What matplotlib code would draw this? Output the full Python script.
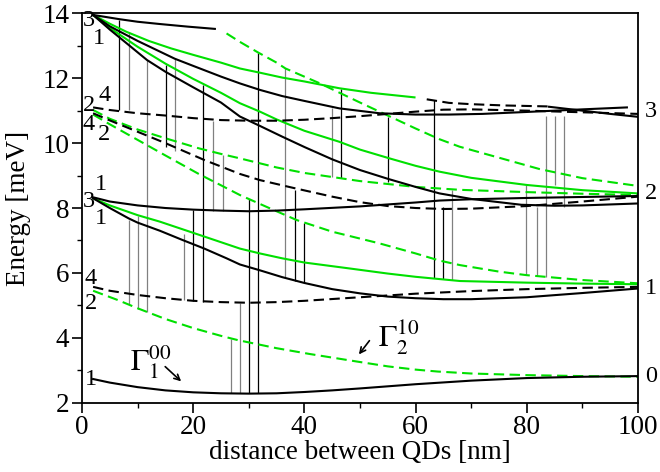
import matplotlib
matplotlib.use("Agg")
import matplotlib.pyplot as plt
from matplotlib.ticker import MultipleLocator

plt.rcParams['font.family'] = 'serif'
plt.rcParams['font.serif'] = ['Liberation Serif', 'DejaVu Serif']
plt.rcParams['mathtext.fontset'] = 'stix'

GREEN = '#00e000'
GRAY = '0.5'

# ---- energy levels (distance [nm], energy [meV]) ----
# black solid
gs_x = [2, 5, 10, 15, 20, 25, 30, 35, 40, 45, 50, 60, 70, 80, 90, 100]
gs_e = [2.73, 2.62, 2.48, 2.38, 2.32, 2.29, 2.28, 2.29, 2.33, 2.38, 2.44, 2.57, 2.68, 2.76, 2.80, 2.82]

low_x = [2, 5, 8.4, 10, 14, 18, 22, 26, 28.4, 32, 36, 40, 45, 50, 55, 60, 65, 70, 80, 90, 100]
low_e = [8.3, 8.0, 7.68, 7.55, 7.3, 7.02, 6.75, 6.45, 6.26, 6.08, 5.87, 5.69, 5.5, 5.37, 5.27, 5.22, 5.19, 5.19, 5.25, 5.38, 5.52]

flat_x = [2, 5, 10, 15, 20, 25, 30, 35, 40, 50, 60, 64.3, 70, 80, 90, 100]
flat_e = [8.33, 8.2, 8.08, 8.0, 7.95, 7.92, 7.9, 7.92, 7.96, 8.05, 8.17, 8.23, 8.27, 8.31, 8.34, 8.37]

b4_x = [2, 5, 8, 11.7, 15, 20, 25, 28.4, 32, 36, 40, 45, 50, 55, 60, 64.3, 70, 79, 85, 90, 100]
b4_e = [13.95, 13.5, 13.08, 12.56, 12.2, 11.72, 11.25, 10.82, 10.53, 10.2, 9.88, 9.5, 9.17, 8.9, 8.65, 8.45, 8.28, 8.1, 8.07, 8.08, 8.14]

b2_x = [2, 5, 10, 16.7, 20, 25, 28.4, 32, 36, 40, 46.3, 53.5, 60, 66, 72, 80, 90, 98]
b2_e = [13.95, 13.6, 13.15, 12.6, 12.38, 12.05, 11.84, 11.64, 11.45, 11.3, 11.07, 10.92, 10.88, 10.88, 10.9, 10.96, 11.04, 11.1]

bb_x = [84, 90, 95, 100]
bb_e = [11.12, 11.0, 10.9, 10.81]

top_x = [2, 6.7, 10, 14, 19, 23.9]
top_e = [13.95, 13.82, 13.74, 13.67, 13.59, 13.52]

# black dashed
bd_low_x = [2, 5, 10, 15, 20, 25, 30, 35, 40, 50, 60, 70, 80, 90, 100]
bd_low_e = [5.57, 5.45, 5.32, 5.22, 5.14, 5.1, 5.08, 5.1, 5.14, 5.25, 5.36, 5.44, 5.5, 5.54, 5.57]

bd_mid_x = [2, 5, 10, 15, 22, 28.4, 32, 38, 45, 50, 55, 60, 65, 70, 80, 90, 100]
bd_mid_e = [10.92, 10.7, 10.35, 10.0, 9.48, 9.05, 8.86, 8.62, 8.35, 8.18, 8.06, 8.0, 7.97, 7.98, 8.06, 8.2, 8.35]

bd_up_x = [2, 5, 10, 15, 20, 25, 30, 35, 40, 45, 50, 55, 60, 65, 70, 80, 90, 100]
bd_up_e = [11.1, 11.02, 10.92, 10.85, 10.77, 10.71, 10.69, 10.69, 10.72, 10.77, 10.83, 10.9, 10.97, 11.03, 11.04, 11.0, 10.95, 10.9]

bd_seg_x = [62, 66, 70, 76, 84]
bd_seg_e = [11.35, 11.24, 11.2, 11.16, 11.13]

# green solid
g_low_x = [2, 5, 10, 14, 18, 22, 28.4, 32, 36, 40, 48, 55, 60, 68, 80, 90, 100]
g_low_e = [8.3, 8.08, 7.78, 7.58, 7.35, 7.12, 6.75, 6.6, 6.45, 6.32, 6.14, 5.98, 5.88, 5.75, 5.7, 5.67, 5.65]

g_up_x = [2, 5, 8, 12, 16, 20, 25, 28.4, 32, 36, 40, 46.3, 52, 59.8]
g_up_e = [13.95, 13.68, 13.43, 13.15, 12.92, 12.72, 12.48, 12.3, 12.17, 12.02, 11.9, 11.69, 11.55, 11.41]

g3_x = [2, 5, 10, 15, 20, 25, 28.4, 32, 35, 40, 46.3, 50, 55.3, 60, 64.3, 70, 80, 90, 100]
g3_e = [13.95, 13.55, 12.97, 12.45, 11.98, 11.55, 11.23, 10.97, 10.73, 10.38, 10.04, 9.8, 9.53, 9.3, 9.12, 8.93, 8.71, 8.55, 8.45]

# green dashed
gd_gs_x = [2, 6.5, 10, 15, 20, 25, 28, 35, 41, 49.4, 55, 60, 64, 70, 80, 90, 100]
gd_gs_e = [5.45, 5.16, 4.91, 4.58, 4.3, 4.06, 3.93, 3.68, 3.5, 3.27, 3.12, 3.02, 2.96, 2.9, 2.85, 2.82, 2.80]

gd2_x = [2, 5, 10, 15, 21, 25, 28.4, 33, 38.6, 45, 53.5, 60, 64.3, 68, 75, 80, 90, 100]
gd2_e = [10.88, 10.58, 10.1, 9.62, 9.05, 8.7, 8.4, 8.05, 7.63, 7.27, 6.91, 6.6, 6.38, 6.24, 6.04, 5.93, 5.78, 5.68]

gd1_x = [2, 5, 10, 15, 21, 25.4, 28.4, 35, 40, 46, 50, 55, 60, 68, 80, 90, 100]
gd1_e = [11.02, 10.75, 10.42, 10.15, 9.84, 9.65, 9.53, 9.25, 9.08, 8.93, 8.83, 8.74, 8.65, 8.56, 8.49, 8.44, 8.40]

gd_top_x = [26, 28.4, 31.7, 35, 36.6, 42.8, 50, 55, 60, 64.3, 67.9, 75, 82.3, 90, 100]
gd_top_e = [13.38, 13.12, 12.79, 12.48, 12.3, 11.84, 11.25, 10.85, 10.45, 10.12, 9.89, 9.55, 9.2, 8.92, 8.68]

# transitions: x, lower energy, upper energy, gray(1) / black(0)
tr_x = [6.7, 8.5, 11.7, 15.1, 16.7, 21.8, 23.5, 25.4, 8.4, 10.1, 18.3, 20.0,
        26.8, 28.4, 30.1, 31.7, 36.6, 38.3, 39.9, 45.0, 46.6, 55.0, 63.3, 64.9,
        66.5, 79.9, 81.8, 83.5, 85.0, 86.6]
tr_lo = [11.02, 11.02, 4.8, 9.89, 9.75, 5.11, 7.92, 7.91, 5.03, 4.9, 5.17, 5.14,
         2.29, 2.29, 2.29, 2.29, 5.83, 5.76, 5.68, 8.96, 8.92, 8.8, 5.83, 5.80,
         5.78, 5.94, 5.90, 5.86, 8.71, 8.04]
tr_hi = [13.79, 13.43, 12.56, 12.41, 12.61, 11.79, 10.69, 9.63, 7.63, 7.75, 7.2, 7.94,
         3.95, 5.07, 8.27, 12.79, 12.3, 8.56, 7.55, 11.07, 11.66, 10.8, 11.33, 8.02,
         8.56, 8.71, 8.04, 10.83, 10.83, 10.83]
tr_gray = [0, 1, 1, 0, 1, 0, 1, 1, 1, 1, 1, 0,
           1, 1, 0, 0, 1, 0, 0, 1, 0, 0, 0, 0,
           1, 1, 1, 1, 1, 1]

# state labels at the left edge: x, energy, text
lab_x = [0.1, 2.0, 0.1, 2.9, 0.1, 2.9, 0.1, 2.4, 2.4, 0.5, 0.5, 0.5]
lab_e = [13.79, 13.23, 11.17, 11.48, 10.56, 10.25, 8.19, 8.71, 7.68, 5.83, 5.06, 2.70]
lab_t = ['3', '1', '2', '4', '4', '2', '3', '1', '1', '4', '2', '1']

# asymptotic labels on the right
right_e = [10.96, 8.46, 5.53, 2.80]
right_t = ['3', '2', '1', '0']

fig = plt.figure(figsize=(6.6, 4.72), dpi=100)
ax = fig.add_axes([0.1242, 0.1468, 0.8425, 0.825])

for x, lo, hi, g in zip(tr_x, tr_lo, tr_hi, tr_gray):
    ax.vlines(x, lo, hi, color=GRAY if g else 'black', lw=0.9, zorder=1)

dash = (0, (5, 2.6))
for xs, es in [(gs_x, gs_e), (low_x, low_e), (flat_x, flat_e), (b4_x, b4_e),
               (b2_x, b2_e), (bb_x, bb_e), (top_x, top_e)]:
    ax.plot(xs, es, color='black', lw=1.5, zorder=3)
for xs, es in [(bd_low_x, bd_low_e), (bd_mid_x, bd_mid_e), (bd_up_x, bd_up_e),
               (bd_seg_x, bd_seg_e)]:
    ax.plot(xs, es, color='black', lw=1.5, ls=dash, zorder=3)
for xs, es in [(g_low_x, g_low_e), (g_up_x, g_up_e), (g3_x, g3_e)]:
    ax.plot(xs, es, color=GREEN, lw=1.5, zorder=2)
for xs, es in [(gd_gs_x, gd_gs_e), (gd2_x, gd2_e), (gd1_x, gd1_e), (gd_top_x, gd_top_e)]:
    ax.plot(xs, es, color=GREEN, lw=1.5, ls=dash, zorder=2)

for x, e, t in zip(lab_x, lab_e, lab_t):
    ax.text(x, e, t, fontsize=17.5, ha='left', va='center', zorder=5)
for e, t in zip(right_e, right_t):
    ax.text(101.3, e, t, fontsize=17.5, ha='left', va='center', clip_on=False)

ax.text(8.7, 3.0, r'$\Gamma_1^{00}$', fontsize=22, ha='left', va='baseline')
ax.annotate('', xy=(18.2, 2.6), xytext=(14.6, 3.17),
            arrowprops=dict(arrowstyle='->', color='black', lw=1.2))
ax.text(53.3, 3.72, r'$\Gamma_2^{10}$', fontsize=22, ha='left', va='baseline')
ax.annotate('', xy=(49.5, 3.42), xytext=(52.0, 3.98),
            arrowprops=dict(arrowstyle='->', color='black', lw=1.2))

ax.set_xlim(0, 100)
ax.set_ylim(2, 14)
ax.xaxis.set_major_locator(MultipleLocator(20))
ax.xaxis.set_minor_locator(MultipleLocator(10))
ax.yaxis.set_major_locator(MultipleLocator(2))
ax.yaxis.set_minor_locator(MultipleLocator(1))
ax.tick_params(which='major', length=7, width=1.2, labelsize=19.5, pad=2)
ax.tick_params(which='minor', length=3.5, width=1.0)
for s in ax.spines.values():
    s.set_linewidth(1.3)

ax.set_xlabel('distance between QDs [nm]', fontsize=19.5)
ax.set_ylabel('Energy [meV]', fontsize=19.5)
ax.xaxis.set_label_coords(0.5, -0.095)
ax.yaxis.set_label_coords(-0.092, 0.5)

fig.savefig('out.png', dpi=100)
